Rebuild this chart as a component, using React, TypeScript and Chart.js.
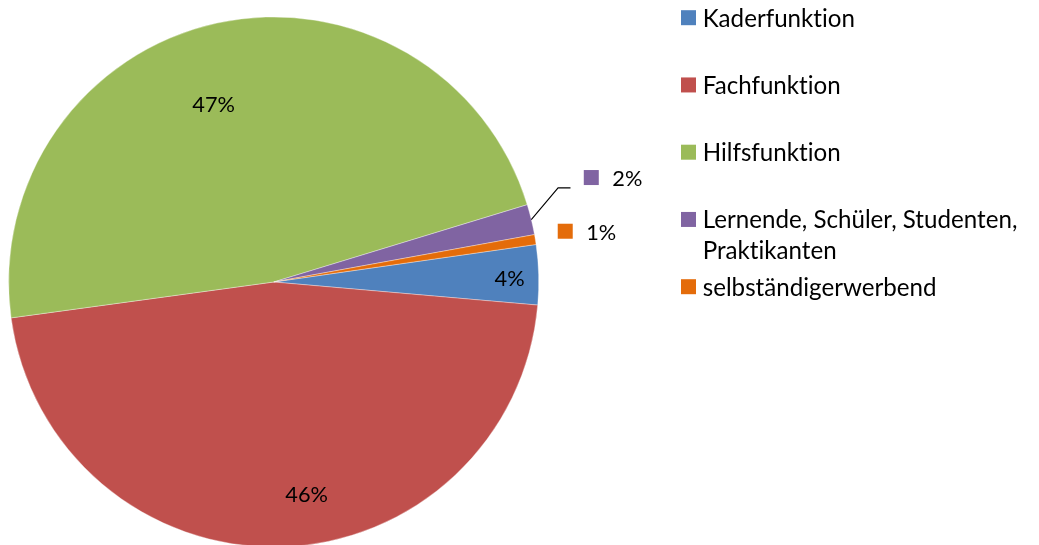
import React, { useEffect, useRef } from "react";
import { Chart, registerables } from "chart.js";

Chart.register(...registerables);

// ---- data ----
const categories = [
  "Kaderfunktion",
  "Fachfunktion",
  "Hilfsfunktion",
  "Lernende, Schüler, Studenten, Praktikanten",
  "selbständigerwerbend",
];
const legendLines = [
  ["Kaderfunktion"],
  ["Fachfunktion"],
  ["Hilfsfunktion"],
  ["Lernende, Schüler, Studenten,", "Praktikanten"],
  ["selbständigerwerbend"],
];
const shares = [3.65, 46.45, 47.45, 1.85, 0.6];
const colors = ["#4F81BD", "#C0504D", "#9BBB59", "#8064A2", "#E46C0A"];

const FAMILY = "Lato, 'Open Sans', sans-serif";

function noLigatures(ctx: any) {
  try {
    ctx.textRendering = "optimizeSpeed";
  } catch (e) {}
  try {
    ctx.letterSpacing = "0.01px";
  } catch (e) {}
}

function fitSize(ctx: CanvasRenderingContext2D, text: string, target: number) {
  ctx.font = `100px ${FAMILY}`;
  const w = ctx.measureText(text).width;
  return (100 * target) / w;
}

type LabelCfg =
  | { mode: "in"; dAngle: number; rFrac: number }
  | { mode: "out"; dx: number; dy: number; leader?: number[][] };

const labelCfg: LabelCfg[] = [
  { mode: "in", dAngle: 0.77, rFrac: 0.89 },
  { mode: "in", dAngle: -7.41, rFrac: 0.812 },
  { mode: "in", dAngle: -6.33, rFrac: 0.706 },
  { mode: "out", dx: 52.5, dy: -40.7, leader: [[26.8, -31.7], [39.2, -31.7]] },
  { mode: "out", dx: 22.4, dy: -7 },
];

const labelPlugin = {
  id: "pieLabels",
  afterDraw(chart: any) {
    const ctx: CanvasRenderingContext2D = chart.ctx;
    const meta = chart.getDatasetMeta(0);
    const data: number[] = chart.data.datasets[0].data;
    const total = data.reduce((a, b) => a + b, 0);
    ctx.save();
    noLigatures(ctx);
    const lblSize = fitSize(ctx, "47%", 42.7);
    ctx.font = `${lblSize}px ${FAMILY}`;
    const digitH = ctx.measureText("4").actualBoundingBoxAscent;
    ctx.fillStyle = "#000";
    meta.data.forEach((arc: any, i: number) => {
      const p = arc.getProps(["x", "y", "startAngle", "endAngle", "outerRadius"], true);
      const mid = (p.startAngle + p.endAngle) / 2;
      const text = Math.round((data[i] / total) * 100) + "%";
      const cfg = labelCfg[i];
      if (cfg.mode === "in") {
        const a = mid + (cfg.dAngle * Math.PI) / 180;
        const r = p.outerRadius * cfg.rFrac;
        const cx = p.x + Math.cos(a) * r;
        const cy = p.y + Math.sin(a) * r;
        ctx.textAlign = "center";
        ctx.textBaseline = "alphabetic";
        ctx.fillText(text, cx, cy + digitH / 2);
      } else {
        const ex = p.x + Math.cos(mid) * p.outerRadius;
        const ey = p.y + Math.sin(mid) * p.outerRadius;
        if (cfg.leader) {
          ctx.beginPath();
          ctx.strokeStyle = "#000";
          ctx.lineWidth = 1.1;
          ctx.moveTo(ex, ey);
          cfg.leader.forEach((pt) => ctx.lineTo(ex + pt[0], ey + pt[1]));
          ctx.stroke();
        }
        const bx = ex + cfg.dx;
        const cy = ey + cfg.dy;
        ctx.fillStyle = colors[i];
        ctx.fillRect(bx, cy - 1.3 - 7.5, 15, 15);
        ctx.fillStyle = "#000";
        ctx.textAlign = "left";
        ctx.textBaseline = "alphabetic";
        ctx.fillText(text, bx + 28.5, cy + digitH / 2);
      }
    });

    // legend
    const legSize = fitSize(ctx, "Kaderfunktion", 152.3);
    ctx.font = `${legSize}px ${FAMILY}`;
    ctx.textAlign = "left";
    ctx.textBaseline = "alphabetic";
    legendLines.forEach((lines, i) => {
      const base = 26.7 + i * 67.25;
      ctx.fillStyle = colors[i];
      ctx.fillRect(681, base - 16.5, 15, 15);
      ctx.fillStyle = "#000";
      lines.forEach((ln, j) => ctx.fillText(ln, 702.7, base + j * 31));
    });
    ctx.restore();
  },
};

export default function App() {
  const ref = useRef<HTMLCanvasElement>(null);
  useEffect(() => {
    if (!ref.current) return;
    const chart = new Chart(ref.current, {
      type: "pie",
      data: {
        labels: categories,
        datasets: [
          {
            data: shares,
            backgroundColor: colors,
            borderColor: "rgba(255,255,255,0.7)",
            borderWidth: 0.5,
          },
        ],
      },
      options: {
        responsive: false,
        animation: false,
        rotation: 81.86,
        layout: { padding: { left: 8.4, top: 16.7, right: 500, bottom: 12.7 } },
        plugins: {
          legend: { display: false },
          tooltip: { enabled: false },
        },
      },
      plugins: [labelPlugin],
    });
    return () => chart.destroy();
  }, []);
  return (
    <div
      style={{
        position: "fixed",
        left: 0,
        top: 0,
        width: 1039,
        height: 545,
        overflow: "hidden",
        background: "#fff",
      }}
    >
      <canvas ref={ref} width={1039} height={560} style={{ display: "block" }} />
    </div>
  );
}
